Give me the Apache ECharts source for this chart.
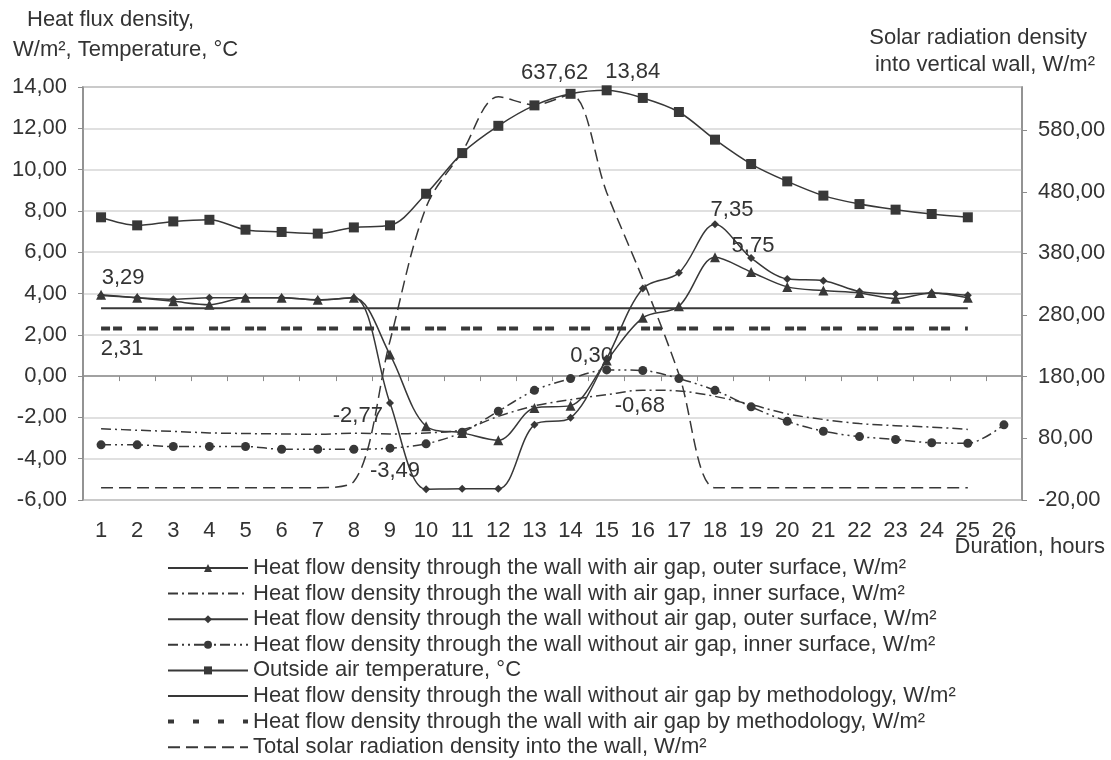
<!DOCTYPE html>
<html>
<head>
<meta charset="utf-8">
<script src="https://cdn.jsdelivr.net/npm/echarts@6/dist/echarts.min.js"></script>
<style>
html,body{margin:0;padding:0;background:#fff;}
#chart{width:1111px;height:760px;}
</style>
</head>
<body>
<div id="chart"></div>
<script>
// ---- data ----
const hours = ['1','2','3','4','5','6','7','8','9','10','11','12','13','14','15','16','17','18','19','20','21','22','23','24','25','26'];
const gapOuter   = [3.94,3.79,3.62,3.46,3.79,3.79,3.70,3.79,1.04,-2.43,-2.75,-3.11,-1.54,-1.43,0.75,2.82,3.38,5.75,5.04,4.32,4.14,4.03,3.75,4.03,3.79];
const gapInner   = [-2.55,-2.62,-2.68,-2.75,-2.78,-2.80,-2.82,-2.77,-2.80,-2.75,-2.60,-1.95,-1.44,-1.14,-0.90,-0.68,-0.72,-0.98,-1.38,-1.83,-2.10,-2.30,-2.40,-2.47,-2.58];
const noGapOuter = [3.90,3.80,3.72,3.80,3.80,3.80,3.68,3.80,-1.30,-5.48,-5.46,-5.46,-2.35,-2.02,0.85,4.24,5.00,7.35,5.72,4.70,4.62,4.10,3.98,4.03,3.91];
const noGapInner = [-3.33,-3.33,-3.41,-3.41,-3.41,-3.54,-3.54,-3.54,-3.49,-3.28,-2.72,-1.70,-0.69,-0.12,0.30,0.27,-0.12,-0.69,-1.49,-2.19,-2.67,-2.93,-3.07,-3.23,-3.25,-2.36];
const airTemp    = [7.69,7.30,7.49,7.57,7.09,6.98,6.90,7.20,7.30,8.83,10.80,12.12,13.11,13.67,13.84,13.47,12.79,11.45,10.27,9.43,8.74,8.33,8.06,7.85,7.69];
const methodNoGap = [3.29,3.29,3.29,3.29,3.29,3.29,3.29,3.29,3.29,3.29,3.29,3.29,3.29,3.29,3.29,3.29,3.29,3.29,3.29,3.29,3.29,3.29,3.29,3.29,3.29];
const methodGap   = [2.31,2.31,2.31,2.31,2.31,2.31,2.31,2.31,2.31,2.31,2.31,2.31,2.31,2.31,2.31,2.31,2.31,2.31,2.31,2.31,2.31,2.31,2.31,2.31,2.31];
const solar       = [0,0,0,0,0,0,0,10,238,455,545,634,621,637.62,479,338,184,0,0,0,0,0,0,0,0];
const leftTicks  = [-6,-4,-2,0,2,4,6,8,10,12,14];
const rightTicks = [-20,80,180,280,380,480,580];

const names = [
  'Heat flow density through the wall with air gap, outer surface, W/m²',
  'Heat flow density through the wall with air gap, inner surface, W/m²',
  'Heat flow density through the wall without air gap, outer surface, W/m²',
  'Heat flow density through the wall without air gap, inner surface, W/m²',
  'Outside air temperature, °C',
  'Heat flow density through the wall without air gap by methodology, W/m²',
  'Heat flow density through the wall with air gap by methodology, W/m²',
  'Total solar radiation density into the wall, W/m²'
];

const fmt = v => v.toFixed(2).replace('.', ',');
const FONT = "'Liberation Sans', Arial, sans-serif";
const FS = 22;
const INK = '#383838';
const TXT = '#333';

// point annotations: [index, label dx, label dy]
function marks(arr, list) {
  return {
    symbol: 'circle', symbolSize: 0, silent: true, animation: false,
    label: {show: true, position: 'inside', color: TXT, fontSize: FS, fontFamily: FONT,
            formatter: p => fmt(p.value)},
    data: list.map(([i, dx, dy]) => ({coord: [hours[i], arr[i]], value: arr[i], label: {offset: [dx, dy]}}))
  };
}

function line(name, data, opts) {
  return Object.assign({
    name, type: 'line', data, smooth: 0.33, animation: false,
    symbol: 'none', showSymbol: true,
    lineStyle: {color: INK, width: 1.5},
    itemStyle: {color: INK},
    emphasis: {disabled: true}
  }, opts);
}

const series = [
  line(names[0], gapOuter, {symbol: 'triangle', symbolSize: 10, markPoint: marks(gapOuter, [[17, 38, -11]])}),
  line(names[1], gapInner, {lineStyle: {color: INK, width: 1.5, type: [10,4,2,4]}, markPoint: marks(gapInner, [[7, 4, -17],[15, -3, 16]])}),
  line(names[2], noGapOuter, {symbol: 'diamond', symbolSize: 8, markPoint: marks(noGapOuter, [[17, 17, -14]])}),
  line(names[3], noGapInner, {symbol: 'circle', symbolSize: 9, lineStyle: {color: INK, width: 1.5, type: [10,4,2,4,2,4]},
       markPoint: marks(noGapInner, [[8, 5, 23],[14, -15, -14]])}),
  line(names[4], airTemp, {symbol: 'rect', symbolSize: 10, markPoint: marks(airTemp, [[14, 26, -18]])}),
  line(names[5], methodNoGap, {smooth: false, lineStyle: {color: INK, width: 2}, markPoint: marks(methodNoGap, [[0, 22, -30]])}),
  line(names[6], methodGap, {smooth: false, lineStyle: {color: INK, width: 4, type: [9,3,9,15]}, markPoint: marks(methodGap, [[0, 21, 21]])}),
  line(names[7], solar, {yAxisIndex: 1, lineStyle: {color: INK, width: 1.5, type: [12,6]}, markPoint: marks(solar, [[13, -16, -22]])})
];

const legendData = names.map((n, i) => {
  const item = {name: n};
  if ([1,5,6,7].includes(i)) item.itemStyle = {opacity: 0, borderWidth: 0};
  if (i === 6) item.lineStyle = {type: [6,19], width: 4};
  return item;
});

const axisFont = {color: TXT, fontSize: FS, fontFamily: FONT};

const option = {
  animation: false,
  backgroundColor: '#fff',
  textStyle: {fontFamily: FONT},
  grid: {left: 83, right: 89, top: 87, bottom: 260, show: true, borderColor: '#8c8c8c', borderWidth: 1.5, containLabel: false},
  legend: {
    orient: 'vertical', left: 166, top: 557, padding: 0,
    itemWidth: 80, itemHeight: 10, itemGap: 3.6,
    textStyle: {color: TXT, fontSize: FS, fontFamily: FONT, lineHeight: 22},
    data: legendData, selectedMode: false
  },
  xAxis: {
    type: 'category', data: hours, boundaryGap: true,
    axisLine: {lineStyle: {color: '#8c8c8c', width: 1.5}},
    axisTick: {show: true, length: 5, lineStyle: {color: '#8c8c8c'}},
    axisLabel: Object.assign({margin: 20, interval: 0}, axisFont),
    splitLine: {show: false}
  },
  yAxis: [{
    type: 'value', min: -6, max: 14, interval: 2,
    axisLine: {show: true, lineStyle: {color: '#8c8c8c', width: 1.5}},
    axisTick: {show: true, length: 5, lineStyle: {color: '#8c8c8c'}},
    axisLabel: Object.assign({margin: 16, formatter: v => fmt(v), customValues: leftTicks}, axisFont),
    splitLine: {show: true, lineStyle: {color: '#d6d6d6', width: 1.5}}
  }, {
    type: 'value', min: -20, max: 650, interval: 100,
    axisLine: {show: true, lineStyle: {color: '#8c8c8c', width: 1.5}},
    axisTick: {show: true, length: 5, lineStyle: {color: '#8c8c8c'}, customValues: rightTicks},
    axisLabel: Object.assign({margin: 16, formatter: v => fmt(v), customValues: rightTicks}, axisFont),
    splitLine: {show: false}
  }],
  graphic: [
    {type: 'text', left: 27, top: 9, style: {text: 'Heat flux density,', fill: TXT, font: FS + 'px ' + FONT}},
    {type: 'text', left: 13, top: 39, style: {text: 'W/m², Temperature, °C', fill: TXT, font: FS + 'px ' + FONT}},
    {type: 'text', right: 24, top: 27, style: {text: 'Solar radiation density', fill: TXT, font: FS + 'px ' + FONT}},
    {type: 'text', right: 16, top: 54, style: {text: 'into vertical wall, W/m²', fill: TXT, font: FS + 'px ' + FONT}},
    {type: 'text', right: 6, top: 536, style: {text: 'Duration, hours', fill: TXT, font: FS + 'px ' + FONT}}
  ],
  series
};

const chart = echarts.init(document.getElementById('chart'), null, {renderer: 'canvas'});
chart.setOption(option);
</script>
</body>
</html>
